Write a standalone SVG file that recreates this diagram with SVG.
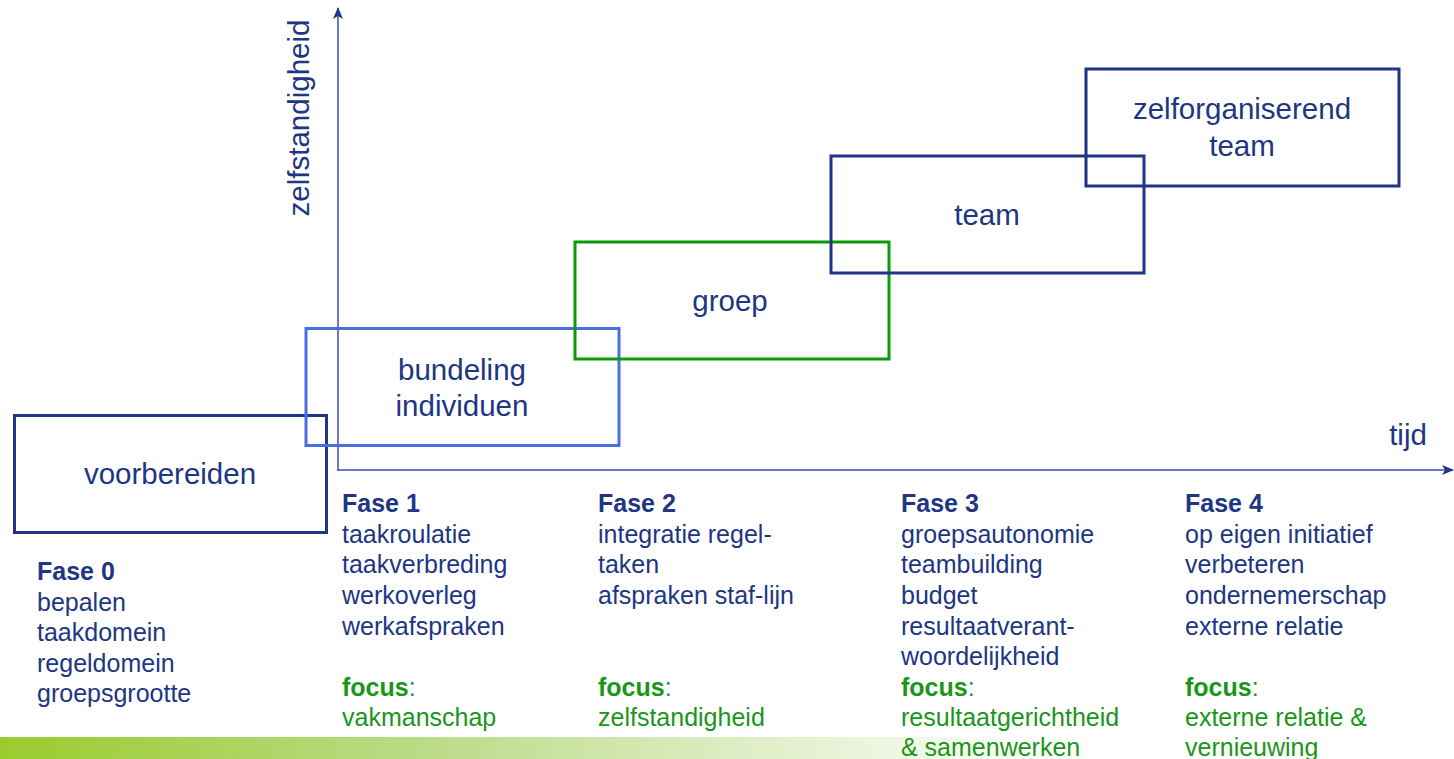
<svg xmlns="http://www.w3.org/2000/svg" width="1454" height="759" viewBox="0 0 1454 759">
<style>
  .box { fill: none; stroke: #1F3585; stroke-width: 3; }
  .lbl { font-family: "Liberation Sans", Arial, sans-serif; font-size: 29.5px; fill: #203683; text-anchor: middle; }
  .ph { font-family: "Liberation Sans", Arial, sans-serif; font-size: 25px; fill: #203683; }
  .b { font-weight: bold; }
  .g { fill: #1A961A; }
  .axis { stroke: #3A52A0; stroke-width: 1.5; fill: none; }
</style>
<defs>
  <linearGradient id="bar" x1="0" y1="0" x2="1" y2="0">
    <stop offset="0" stop-color="#99CC2E"/>
    <stop offset="0.3" stop-color="#BCDC8A"/>
    <stop offset="0.72" stop-color="#FFFFFF"/>
    <stop offset="1" stop-color="#FFFFFF"/>
  </linearGradient>
  <marker id="arr" viewBox="0 0 12 10" refX="11" refY="5" markerWidth="12" markerHeight="10" markerUnits="userSpaceOnUse" orient="auto">
    <path d="M0,0 L12,5 L0,10 L3,5 z" fill="#1F3585"/>
  </marker>
</defs>
<rect width="1454" height="759" fill="#FFFFFF"/>
<rect x="0" y="737" width="1454" height="22" fill="url(#bar)"/>

<g id="connectors">
  <line class="axis" x1="338" y1="471" x2="338" y2="8" marker-end="url(#arr)"/>
  <line class="axis" x1="338" y1="470" x2="1453" y2="470" marker-end="url(#arr)"/>
</g>

<g id="axis-labels">
  <text class="lbl" transform="translate(309,118) rotate(-90)">zelfstandigheid</text>
  <text class="lbl" x="1408" y="445">tijd</text>
</g>

<g id="voorbereiden">
  <rect class="box" x="14.5" y="415.5" width="312" height="117"/>
  <text class="lbl" x="170" y="484">voorbereiden</text>
</g>
<g id="bundeling">
  <rect class="box" x="306" y="328.5" width="313" height="117" style="stroke:#4A6DE0"/>
  <text class="lbl" x="462" y="380">bundeling</text>
  <text class="lbl" x="462" y="416">individuen</text>
</g>
<g id="groep">
  <rect class="box" x="575" y="242" width="314" height="117" style="stroke:#0A9A0A"/>
  <text class="lbl" x="730" y="311">groep</text>
</g>
<g id="team">
  <rect class="box" x="831" y="156" width="313" height="117"/>
  <text class="lbl" x="987" y="225">team</text>
</g>
<g id="zelforganiserend-team">
  <rect class="box" x="1086" y="69" width="313" height="117"/>
  <text class="lbl" x="1242" y="119">zelforganiserend</text>
  <text class="lbl" x="1242" y="156">team</text>
</g>

<g id="fase0">
  <text class="ph b" x="37" y="580">Fase 0</text>
  <text class="ph" x="37" y="611">bepalen</text>
  <text class="ph" x="37" y="641">taakdomein</text>
  <text class="ph" x="37" y="672">regeldomein</text>
  <text class="ph" x="37" y="702">groepsgrootte</text>
</g>
<g id="fase1">
  <text class="ph b" x="342" y="512">Fase 1</text>
  <text class="ph" x="342" y="543">taakroulatie</text>
  <text class="ph" x="342" y="573">taakverbreding</text>
  <text class="ph" x="342" y="604">werkoverleg</text>
  <text class="ph" x="342" y="635">werkafspraken</text>
  <text class="ph g" x="342" y="696"><tspan class="b">focus</tspan>:</text>
  <text class="ph g" x="342" y="726">vakmanschap</text>
</g>
<g id="fase2">
  <text class="ph b" x="598" y="512">Fase 2</text>
  <text class="ph" x="598" y="543">integratie regel-</text>
  <text class="ph" x="598" y="573">taken</text>
  <text class="ph" x="598" y="604">afspraken staf-lijn</text>
  <text class="ph g" x="598" y="696"><tspan class="b">focus</tspan>:</text>
  <text class="ph g" x="598" y="726">zelfstandigheid</text>
</g>
<g id="fase3">
  <text class="ph b" x="901" y="512">Fase 3</text>
  <text class="ph" x="901" y="543">groepsautonomie</text>
  <text class="ph" x="901" y="573">teambuilding</text>
  <text class="ph" x="901" y="604">budget</text>
  <text class="ph" x="901" y="635">resultaatverant-</text>
  <text class="ph" x="901" y="665">woordelijkheid</text>
  <text class="ph g" x="901" y="696"><tspan class="b">focus</tspan>:</text>
  <text class="ph g" x="901" y="726">resultaatgerichtheid</text>
  <text class="ph g" x="901" y="756">&amp; samenwerken</text>
</g>
<g id="fase4">
  <text class="ph b" x="1185" y="512">Fase 4</text>
  <text class="ph" x="1185" y="543">op eigen initiatief</text>
  <text class="ph" x="1185" y="573">verbeteren</text>
  <text class="ph" x="1185" y="604">ondernemerschap</text>
  <text class="ph" x="1185" y="635">externe relatie</text>
  <text class="ph g" x="1185" y="696"><tspan class="b">focus</tspan>:</text>
  <text class="ph g" x="1185" y="726">externe relatie &amp;</text>
  <text class="ph g" x="1185" y="756">vernieuwing</text>
</g>
</svg>
